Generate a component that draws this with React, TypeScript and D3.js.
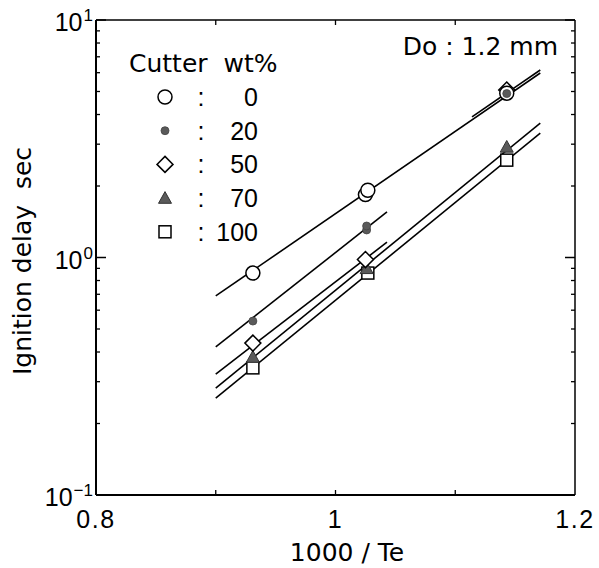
import React from 'react';
import * as d3 from 'd3';

// ---- data ----
const xDomain = [0.8, 1.2];
const yDomain = [0.1, 10];
const xTickValues = [0.8, 1.0, 1.2];
const xTickLabels = ['0.8', '1', '1.2'];
const xMinorTicks = [0.9, 1.0, 1.1];
const yMajorTicks = [0.1, 1, 10];
const yExponents = ['−1', '0', '1'];
const yMinorTicks = [0.2, 0.3, 0.4, 0.5, 0.6, 0.7, 0.8, 0.9, 2, 3, 4, 5, 6, 7, 8, 9];

const seriesLabels = ['0', '20', '50', '70', '100'];

// measured points [1000/Te, delay s]
const pts0: [number, number][] = [[0.931, 0.86], [1.025, 1.84], [1.027, 1.92], [1.143, 4.92]];
const pts20: [number, number][] = [[0.931, 0.54], [1.026, 1.306], [1.026, 1.357], [1.143, 4.9]];
const pts50: [number, number][] = [[0.931, 0.436], [1.025, 0.98], [1.143, 5.07]];
const pts70: [number, number][] = [[0.931, 0.381], [1.026, 0.9], [1.143, 2.92]];
const pts100: [number, number][] = [[0.931, 0.343], [1.027, 0.86], [1.143, 2.57]];

// fitted line segments (endpoints in data units)
const line0: [number, number][][] = [[[0.9, 0.689], [1.171, 5.98]]];
const line20: [number, number][][] = [[[0.9, 0.42], [1.043, 1.555]], [[1.114, 3.91], [1.171, 6.16]]];
const line50: [number, number][][] = [[[0.9, 0.323], [1.043, 1.16]]];
const line70: [number, number][][] = [[[0.9, 0.282], [1.171, 3.68]]];
const line100: [number, number][][] = [[[0.9, 0.256], [1.171, 3.34]]];

const W = 599, H = 568;
const M = { left: 96, right: 575, top: 20, bottom: 495 };
const NUM_FONT = '"Liberation Sans", Arial, Helvetica, sans-serif';
const TXT_FONT = '"DejaVu Sans", "Liberation Sans", Arial, sans-serif';
const GREY = '#5a5a5a';

type Kind = 'circle' | 'dot' | 'diamond' | 'triangle' | 'square';

function Marker({ kind, cx, cy }: { kind: Kind; cx: number; cy: number }) {
  const sw = 1.5;
  if (kind === 'circle') return <circle cx={cx} cy={cy} r={7} fill="white" stroke="black" strokeWidth={sw} />;
  if (kind === 'dot') return <circle cx={cx} cy={cy} r={4} fill={GREY} stroke="#444" strokeWidth={0.8} />;
  if (kind === 'diamond') {
    const s = 8;
    return <path d={`M${cx},${cy - s}L${cx + s},${cy}L${cx},${cy + s}L${cx - s},${cy}Z`} fill="white" stroke="black" strokeWidth={sw} />;
  }
  if (kind === 'triangle') {
    const s = 6.5;
    return <path d={`M${cx},${cy - s}L${cx + s},${cy + s * 0.8}L${cx - s},${cy + s * 0.8}Z`} fill={GREY} stroke="#333" strokeWidth={1} />;
  }
  const s = 6;
  return <rect x={cx - s} y={cy - s} width={2 * s} height={2 * s} fill="white" stroke="black" strokeWidth={sw} />;
}

export default function App() {
  const x = d3.scaleLinear().domain(xDomain).range([M.left, M.right]);
  const y = d3.scaleLog().domain(yDomain).range([M.bottom, M.top]);
  const line = d3.line<[number, number]>().x(d => x(d[0])).y(d => y(d[1]));

  const allLines = [line0, line20, line50, line70, line100];
  const pointSets: { kind: Kind; pts: [number, number][] }[] = [
    { kind: 'square', pts: pts100 },
    { kind: 'triangle', pts: pts70 },
    { kind: 'diamond', pts: pts50 },
    { kind: 'circle', pts: pts0 },
    { kind: 'dot', pts: pts20 },
  ];
  const legendKinds: Kind[] = ['circle', 'dot', 'diamond', 'triangle', 'square'];

  return (
    <svg width={W} height={H} style={{ display: 'block', position: 'absolute', left: 0, top: 0, background: 'white' }}>
      <rect x={0} y={0} width={W} height={H} fill="white" />
      {/* frame */}
      <line x1={M.left} y1={M.top} x2={M.right} y2={M.top} stroke="black" strokeWidth={1.5} />
      <line x1={M.right} y1={M.top} x2={M.right} y2={M.bottom} stroke="black" strokeWidth={1.5} />
      <line x1={M.left} y1={M.top} x2={M.left} y2={M.bottom} stroke="black" strokeWidth={2} />
      <line x1={M.left} y1={M.bottom} x2={M.right} y2={M.bottom} stroke="black" strokeWidth={2} />

      {/* y ticks */}
      {yMinorTicks.map(v => (
        <g key={'ym' + v}>
          <line x1={M.left} x2={M.left + 4} y1={y(v)} y2={y(v)} stroke="black" strokeWidth={1.3} />
          <line x1={M.right} x2={M.right - 4} y1={y(v)} y2={y(v)} stroke="black" strokeWidth={1.3} />
        </g>
      ))}
      {yMajorTicks.map(v => (
        <g key={'yM' + v}>
          <line x1={M.left} x2={M.left + 10} y1={y(v)} y2={y(v)} stroke="black" strokeWidth={1.5} />
          <line x1={M.right} x2={M.right - 10} y1={y(v)} y2={y(v)} stroke="black" strokeWidth={1.5} />
        </g>
      ))}
      {/* x ticks */}
      {xMinorTicks.map(v => (
        <g key={'xm' + v}>
          <line x1={x(v)} x2={x(v)} y1={M.bottom} y2={M.bottom - 5} stroke="black" strokeWidth={1.3} />
          <line x1={x(v)} x2={x(v)} y1={M.top} y2={M.top + 5} stroke="black" strokeWidth={1.3} />
        </g>
      ))}

      {/* y tick labels */}
      {yMajorTicks.map((v, i) => (
        <text key={'yl' + v} x={93} y={y(v) + 11} textAnchor="end" fontFamily={NUM_FONT} fontSize={25} fill="black">
          <tspan>10</tspan>
          <tspan dx={1} dy={-10} fontSize={17}>{yExponents[i]}</tspan>
        </text>
      ))}
      {/* x tick labels */}
      {xTickValues.map((v, i) => (
        <text key={'xl' + v} x={x(v)} y={528} textAnchor="middle" fontFamily={NUM_FONT} fontSize={25} letterSpacing={1.5} fill="black">
          {xTickLabels[i]}
        </text>
      ))}

      {/* axis titles */}
      <text x={347} y={561} textAnchor="middle" fontFamily={TXT_FONT} fontSize={25} fill="black">1000 / Te</text>
      <text transform={`translate(31,261) rotate(-90)`} textAnchor="middle" fontFamily={TXT_FONT} fontSize={25} fill="black" style={{ whiteSpace: 'pre' }}>
        {'Ignition delay  sec'}
      </text>

      {/* fitted lines */}
      {allLines.map((segs, i) =>
        segs.map((seg, j) => (
          <path key={`l${i}-${j}`} d={line(seg) || ''} fill="none" stroke="black" strokeWidth={1.6} />
        ))
      )}

      {/* points */}
      {pointSets.map(ps =>
        ps.pts.map((p, j) => <Marker key={ps.kind + j} kind={ps.kind} cx={x(p[0])} cy={y(p[1])} />)
      )}

      {/* annotation */}
      <text x={558} y={55} textAnchor="end" fontFamily={TXT_FONT} fontSize={25} fill="black">Do : 1.2 mm</text>

      {/* legend */}
      <text x={129} y={72} fontFamily={TXT_FONT} fontSize={25} fill="black" style={{ whiteSpace: 'pre' }}>{'Cutter  wt%'}</text>
      {seriesLabels.map((lab, i) => {
        const cy = 97 + i * 33.7;
        return (
          <g key={'lg' + lab}>
            <Marker kind={legendKinds[i]} cx={165} cy={cy} />
            <text x={201} y={cy + 9} textAnchor="middle" fontFamily={NUM_FONT} fontSize={25} fill="black">:</text>
            <text x={258} y={cy + 9} textAnchor="end" fontFamily={NUM_FONT} fontSize={25} fill="black">{lab}</text>
          </g>
        );
      })}
    </svg>
  );
}
